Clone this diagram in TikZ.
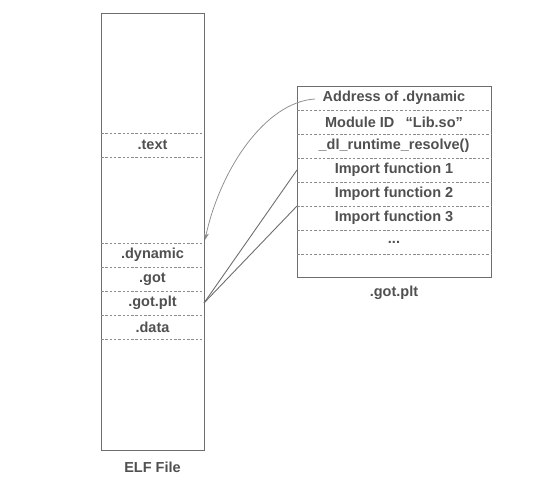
\documentclass[tikz,border=0pt]{standalone}
\usepackage{fontspec}
\setmainfont{Liberation Sans}
\usetikzlibrary{arrows.meta}
\definecolor{txtgray}{HTML}{505050}
\definecolor{edgegray}{HTML}{6E6E6E}
\definecolor{dashgray}{HTML}{8C8C8C}
\tikzset{
  boxframe/.style={draw=edgegray, line width=0.9pt, inner sep=0pt, outer sep=0pt},
  sectbox/.style={inner sep=0pt, outer sep=0pt, minimum width=103pt, minimum height=24pt, text=txtgray, font=\bfseries\fontsize{14.5}{15}\selectfont},
  rowbox/.style={inner sep=0pt, outer sep=0pt, minimum width=194pt, minimum height=24pt, text=txtgray, font=\bfseries\fontsize{14.5}{15}\selectfont},
  sepline/.style={draw=dashgray, line width=0.6pt, dash pattern=on 2.5pt off 1.8pt},
  captxt/.style={text=txtgray, font=\bfseries\fontsize{14.5}{15}\selectfont},
  linkline/.style={draw=edgegray, line width=0.9pt},
}
\begin{document}
\begin{tikzpicture}[x=1pt,y=-1pt]
\useasboundingbox (0,0) rectangle (558,498);
% ELF file
\node[boxframe, minimum width=103pt, minimum height=437pt] (elf) at (152.5,231.5) {};
\node[sectbox] (text) at (152.5,145) {.text};
\node[sectbox] (dyn) at (152.5,255) {.dynamic};
\node[sectbox] (got) at (152.5,279) {.got};
\node[sectbox] (gotplt) at (152.5,303) {.got.plt};
\node[sectbox] (data) at (152.5,327) {.data};
\foreach \n in {text,dyn,got,gotplt,data}{
  \draw[sepline] (\n.north west) -- (\n.north east);
}
\draw[sepline] (text.south west) -- (text.south east);
\draw[sepline] (data.south west) -- (data.south east);
\node[captxt] (elfcap) at (152.5,467) {ELF File};
% .got.plt table
\node[boxframe, minimum width=194pt, minimum height=191pt] (tab) at (394,181.5) {};
\node[rowbox] (r1) at (394,98) {Address of .dynamic};
\node[rowbox] (r2) at (394,122) {Module ID \enspace\char"201C Lib.so\char"201D};
\node[rowbox] (r3) at (394,146) {\_dl\_runtime\_resolve()};
\node[rowbox] (r4) at (394,170) {Import function 1};
\node[rowbox] (r5) at (394,194) {Import function 2};
\node[rowbox] (r6) at (394,218) {Import function 3};
\node[rowbox] (r7) at (394,242) {...};
\node[rowbox] (r8) at (394,266) {};
\foreach \n in {r2,r3,r4,r5,r6,r7,r8}{
  \draw[sepline] (\n.north west) -- (\n.north east);
}
\node[captxt] (tabcap) at (394,293) {.got.plt};
% connectors
\coordinate (cstart) at (315,99);
\coordinate (ctip) at (205,240);
\draw[draw=dashgray, line width=0.75pt, -{Stealth[length=7pt,width=5pt]}] (cstart) .. controls (265,102) and (220,170) .. (ctip);
\draw[linkline] (gotplt.east) -- (r4.west);
\draw[linkline] (gotplt.east) -- (r5.south west);
\end{tikzpicture}
\end{document}
